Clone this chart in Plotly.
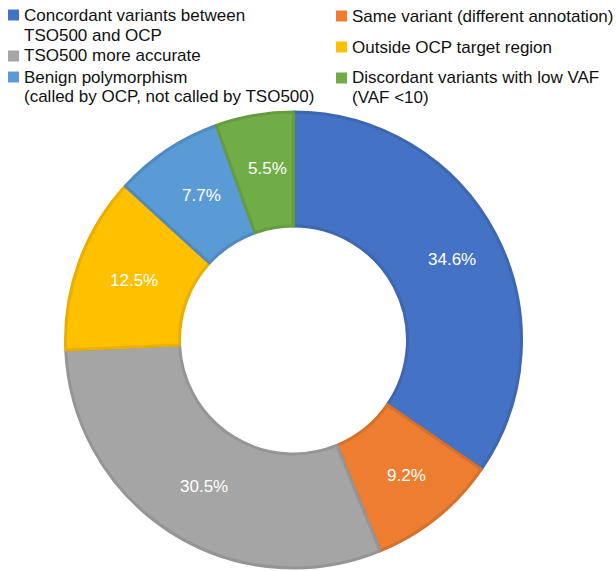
import math
import plotly.graph_objects as go

# ---- data ----
labels = [
    "Concordant variants between<br>TSO500 and OCP",
    "Same variant (different annotation)",
    "TSO500 more accurate",
    "Outside OCP target region",
    "Benign polymorphism<br>(called by OCP, not called by TSO500)",
    "Discordant variants with low VAF<br>(VAF <10)",
]
values = [34.6, 9.2, 30.5, 12.5, 7.7, 5.5]

# ---- styles ----
fill_colors = ["#4472C4", "#ED7D31", "#A5A5A5", "#FFC000", "#5B9BD5", "#70AD47"]
edge_colors = ["#3E67B1", "#D6712C", "#959595", "#E8AE00", "#5289C0", "#659C40"]

W, H = 616, 571
FONT = "Liberation Sans, Arial, Helvetica, sans-serif"

# pie geometry (pixels)
px0, px1 = 65, 522
py_top, py_bot = 112, 568
hole = 0.5

fig = go.Figure(go.Pie(
    labels=labels,
    values=values,
    hole=hole,
    sort=False,
    direction="clockwise",
    rotation=0,
    marker=dict(colors=fill_colors, line=dict(color=edge_colors, width=3)),
    textinfo="none",
    domain=dict(x=[px0 / W, px1 / W], y=[1 - py_bot / H, 1 - py_top / H]),
    showlegend=False,
    hoverinfo="label+percent",
))

# ---- percentage labels at the middle of the ring, along each slice bisector ----
cx = (px0 + px1) / 2
cy = (py_top + py_bot) / 2
R = min(px1 - px0, py_bot - py_top) / 2
r_lab = R * (1 + hole) / 2 + 3
total = sum(values)
annotations = []
cum = 0.0
for v in values:
    theta = 2 * math.pi * (cum + v / 2) / total
    cum += v
    lx = cx + r_lab * math.sin(theta) + 4
    ly = cy - r_lab * math.cos(theta)
    annotations.append(dict(
        xref="paper", yref="paper", x=lx / W, y=1 - ly / H,
        xanchor="center", yanchor="middle", showarrow=False,
        text=f"{v:.1f}%",
        font=dict(size=17, color="white", family=FONT),
    ))

# ---- legend drawn as shapes + text (two columns) ----
legend_col_x = [8, 336, 8, 336, 8, 336]
legend_row_y = [15, 16, 56, 47, 77, 78]
line_gap = 20
sq = 11

shapes = []
for lab, col, lxp, lyp in zip(labels, fill_colors, legend_col_x, legend_row_y):
    shapes.append(dict(
        type="rect", xref="paper", yref="paper",
        x0=lxp / W, x1=(lxp + sq) / W,
        y0=1 - (lyp + sq / 2) / H, y1=1 - (lyp - sq / 2) / H,
        fillcolor=col, line=dict(width=0),
    ))
    for i, line in enumerate(lab.split("<br>")):
        annotations.append(dict(
            xref="paper", yref="paper",
            x=(lxp + sq + 3) / W, y=1 - (lyp + i * line_gap) / H,
            xanchor="left", yanchor="middle",
            text=line, showarrow=False, align="left",
            font=dict(size=17, color="#111111", family=FONT),
        ))

fig.update_layout(
    width=W, height=H,
    margin=dict(l=0, r=0, t=0, b=0),
    paper_bgcolor="white",
    plot_bgcolor="white",
    shapes=shapes,
    annotations=annotations,
)

fig.write_html("out.html")
